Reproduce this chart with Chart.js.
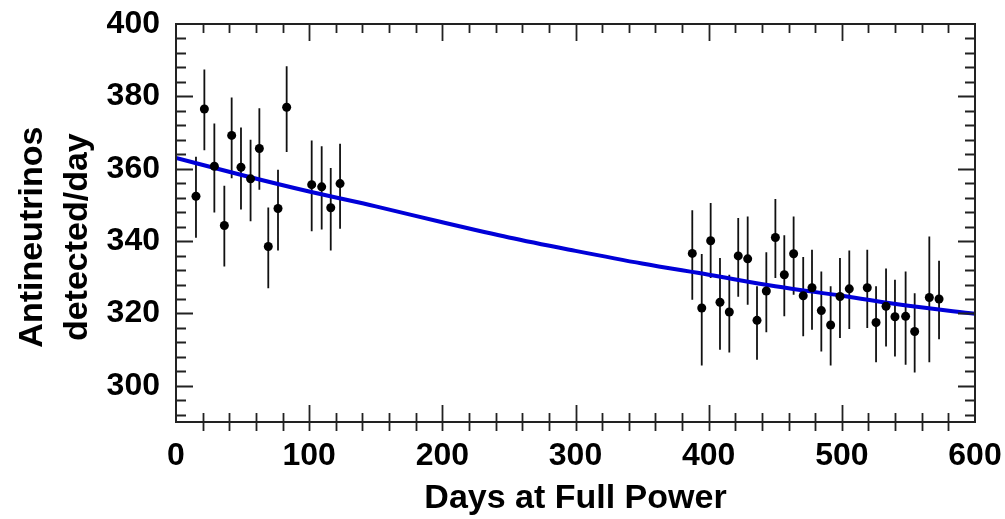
<!DOCTYPE html>
<html>
<head>
<meta charset="utf-8">
<script src="https://cdn.jsdelivr.net/npm/chart.js@4"></script>
<style>
  html, body { margin: 0; padding: 0; background: #fff; }
  #wrap { width: 1005px; height: 519px; }
</style>
</head>
<body>
<div id="wrap"><canvas id="chart" width="1005" height="519"></canvas></div>
<script>
// ===== DATA =====
const days = [15.0, 21.3, 28.8, 36.3, 41.8, 48.8, 56.0, 62.6, 69.3, 76.6, 83.1, 101.9, 109.4, 116.2, 123.2,
  387.7, 394.8, 401.5, 408.5, 415.5, 422.2, 429.3, 436.3, 443.3, 450.1, 456.8, 463.8, 471.0,
  477.6, 484.6, 491.6, 498.6, 505.6, 519.1, 525.7, 533.2, 539.9, 547.9, 554.7, 565.7, 573.0];
const rate = [352.4, 376.5, 360.7, 344.3, 369.2, 360.4, 357.2, 365.6, 338.5, 349.0, 377.0, 355.6, 355.0, 349.2, 355.9,
  336.6, 321.5, 340.1, 323.1, 320.4, 335.9, 335.1, 318.1, 326.2, 341.0, 330.7, 336.5, 324.9,
  327.1, 320.8, 316.8, 324.7, 326.8, 327.1, 317.5, 322.0, 319.1, 319.2, 315.0, 324.4, 324.0];
const rateLow = [340.9, 365.1, 347.9, 333.0, 357.4, 348.7, 345.5, 354.2, 327.0, 337.4, 364.6, 342.7, 343.2, 337.4, 343.4,
  323.8, 305.6, 329.8, 310.0, 309.2, 324.6, 322.4, 307.2, 314.8, 329.8, 319.2, 325.2, 313.7,
  315.5, 309.5, 305.6, 313.2, 315.7, 316.0, 306.5, 310.9, 308.1, 305.8, 303.7, 306.5, 312.9];
const rateHigh = [363.3, 387.4, 372.5, 355.3, 379.7, 371.4, 368.0, 376.7, 349.3, 359.7, 388.3, 367.8, 366.2, 360.2, 366.9,
  348.5, 336.4, 350.5, 335.3, 330.7, 346.4, 346.8, 327.5, 336.9, 351.6, 341.6, 346.8, 335.6,
  337.6, 331.6, 327.5, 335.3, 337.4, 337.6, 327.5, 332.4, 329.3, 331.6, 325.6, 341.3, 334.6];

// fitted curve
const fitDays = [0, 50, 100, 150, 200, 250, 300, 350, 400, 450, 500, 550, 600];
const fitRate = [363.0, 358.2, 353.7, 349.6, 345.2, 341.0, 337.3, 333.8, 330.7, 327.5, 324.9, 322.1, 319.9];

const xTicks = [0, 100, 200, 300, 400, 500, 600];
const yTicks = [300, 320, 340, 360, 380, 400];

// ===== DATASETS =====
const points = days.map((d, i) => ({ x: d, y: rate[i] }));
const fit = fitDays.map((d, i) => ({ x: d, y: fitRate[i] }));
const bars = [];
days.forEach((d, i) => {
  bars.push({ x: d, y: rateLow[i] }, { x: d, y: rateHigh[i] }, { x: d, y: null });
});

const FONT = "'Liberation Sans', Arial, sans-serif";
const TICK_FONT = { family: FONT, size: 32, weight: "bold" };

// frame + inward ticks, like the original plot
const frameTicks = {
  id: "frameTicks",
  afterDatasetsDraw(chart) {
    const { ctx, chartArea: a, scales: { x, y } } = chart;
    ctx.save();
    ctx.strokeStyle = "#222";
    ctx.lineWidth = 2;
    ctx.strokeRect(a.left, a.top, a.right - a.left, a.bottom - a.top);
    ctx.beginPath();
    for (let v = x.min + 20; v < x.max; v += 20) {
      const px = Math.round(x.getPixelForValue(v)) + 0.5;
      const len = v % 100 === 0 ? 17 : 9;
      ctx.moveTo(px, a.bottom - len); ctx.lineTo(px, a.bottom + 9);
      ctx.moveTo(px, a.top); ctx.lineTo(px, a.top + len);
    }
    for (let v = 292; v < y.max; v += 4) {
      const py = Math.round(y.getPixelForValue(v)) + 0.5;
      const len = v % 20 === 0 ? 17 : 10;
      ctx.moveTo(a.left, py); ctx.lineTo(a.left + len, py);
      ctx.moveTo(a.right, py); ctx.lineTo(a.right - len, py);
    }
    ctx.lineWidth = 1.8;
    ctx.stroke();
    ctx.restore();
  }
};

// no extra room for label overhang: keep the plot box where the original has it
const noPad = s => { s.paddingTop = 0; s.paddingBottom = 0; s.paddingLeft = 0; s.paddingRight = 0; };

new Chart(document.getElementById("chart"), {
  type: "line",
  data: {
    datasets: [
      { data: points, showLine: false, pointRadius: 4.5, pointBackgroundColor: "#000", pointBorderColor: "#000", pointBorderWidth: 0, order: 1 },
      { data: fit, borderColor: "#0000d8", borderWidth: 4, pointRadius: 0, cubicInterpolationMode: "monotone", order: 2 },
      { data: bars, borderColor: "#111", borderWidth: 1.8, pointRadius: 0, spanGaps: false, order: 3 }
    ]
  },
  options: {
    responsive: false,
    animation: false,
    layout: { padding: { top: 24, right: 30, left: 0, bottom: 0 } },
    plugins: { legend: { display: false }, tooltip: { enabled: false } },
    scales: {
      x: {
        type: "linear", min: 0, max: 600,
        afterBuildTicks: s => { s.ticks = xTicks.map(v => ({ value: v })); },
        afterFit: s => { s.height = 97; noPad(s); },
        grid: { display: false, drawTicks: false },
        border: { display: false },
        ticks: { padding: 15, color: "#000", font: TICK_FONT, maxRotation: 0 },
        title: { display: true, text: "Days at Full Power", color: "#000", padding: { top: 22, bottom: 0 },
                 font: { family: FONT, size: 34, weight: "bold" } }
      },
      y: {
        min: 290, max: 400,
        afterBuildTicks: s => { s.ticks = yTicks.map(v => ({ value: v })); },
        afterFit: s => { s.width = 176; noPad(s); },
        grid: { display: false, drawTicks: false },
        border: { display: false },
        ticks: { padding: 16, color: "#000", font: TICK_FONT },
        title: { display: true, text: ["Antineutrinos   ", "detected/day   "], color: "#000", padding: { top: 11, bottom: 0 },
                 font: { family: FONT, size: 34, weight: "bold", lineHeight: 1.3 } }
      }
    }
  },
  plugins: [frameTicks]
});
</script>
</body>
</html>
